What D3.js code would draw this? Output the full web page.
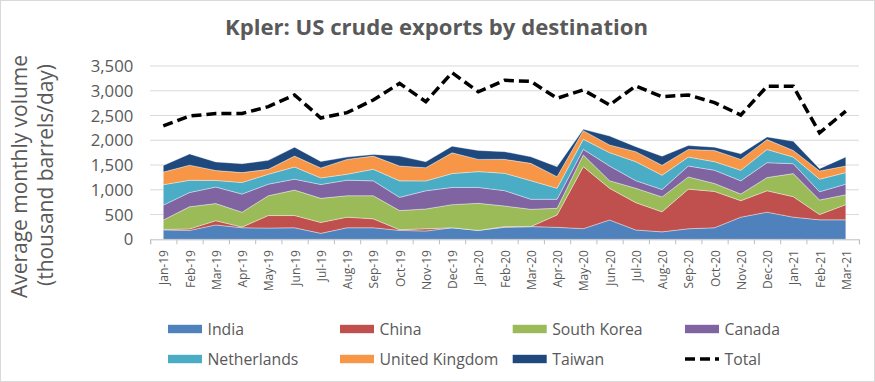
<!DOCTYPE html>
<html><head><meta charset="utf-8">
<script src="https://cdn.jsdelivr.net/npm/d3@7"></script>
<style>body{margin:0;background:#fff}svg{display:block}text{font-family:"Open Sans",sans-serif;fill:#595959}</style>
</head><body>
<svg id="c" width="875" height="382"></svg>
<script>
const months = ["Jan-19","Feb-19","Mar-19","Apr-19","May-19","Jun-19","Jul-19","Aug-19","Sep-19","Oct-19","Nov-19","Dec-19",
  "Jan-20","Feb-20","Mar-20","Apr-20","May-20","Jun-20","Jul-20","Aug-20","Sep-20","Oct-20","Nov-20","Dec-20",
  "Jan-21","Feb-21","Mar-21"];
const india       = [190,180,290,233,227,233,120,233,233,180,167,233,180,242,256,242,215,390,188,150,213,233,447,547,447,393,393];
const china       = [10,30,85,14,253,247,220,214,180,13,46,0,0,14,0,249,1252,640,552,404,800,734,333,433,413,107,307];
const southKorea  = [190,447,347,300,400,514,487,433,467,387,400,467,547,417,350,135,236,154,290,302,247,160,134,267,467,293,200];
const canada      = [300,287,333,366,234,220,280,314,300,267,366,347,320,310,202,182,114,296,154,149,220,267,266,300,200,167,214];
const netherlands = [413,247,134,234,200,246,133,120,234,333,200,280,320,350,376,222,202,270,384,289,180,173,214,267,133,254,233];
const unitedKingdom = [254,306,200,200,100,220,200,300,266,300,267,420,247,282,350,235,175,155,202,201,154,227,220,200,134,166,133];
const taiwan      = [133,227,173,180,180,180,133,46,34,200,120,133,180,155,134,202,27,181,101,183,80,66,113,53,186,47,180];
const total       = [2290,2490,2540,2540,2680,2915,2450,2557,2814,3150,2780,3365,2980,3210,3190,2848,3016,2713,3097,2880,2915,2760,2510,3090,3090,2150,2590];
const seriesNames = ["India","China","South Korea","Canada","Netherlands","United Kingdom","Taiwan"];
const seriesValues = [india,china,southKorea,canada,netherlands,unitedKingdom,taiwan];
const colors = ["#4F81BD","#C0504D","#9BBB59","#8064A2","#4BACC6","#F79646","#1F497D"];
const yTicks = [0,500,1000,1500,2000,2500,3000,3500];

const svg = d3.select("#c");
svg.append("rect").attr("x",0.5).attr("y",0.5).attr("width",874).attr("height",381)
  .attr("fill","#fff").attr("stroke","#d9d9d9");

const x = d3.scalePoint().domain(months).range([163.3, 845.8]);
const step = x.step();
const y = d3.scaleLinear().domain([0,3500]).range([239.3, 66]);
const left = x(months[0]) - step/2, right = x(months[months.length-1]) + step/2;

function fit(sel, target){
  const w = sel.node().getComputedTextLength();
  const fs = parseFloat(sel.attr("font-size"));
  return fs*target/w;
}

// gridlines
svg.append("g").selectAll("line").data(yTicks.slice(1)).join("line")
  .attr("x1",left).attr("x2",right).attr("y1",d=>y(d)).attr("y2",d=>y(d))
  .attr("stroke","#d9d9d9").attr("stroke-width",1);

// stacked data
const table = months.map((m,i)=>{const o={m}; seriesNames.forEach((s,k)=>o[s]=seriesValues[k][i]); return o;});
const stack = d3.stack().keys(seriesNames)(table);
const area = d3.area().x(d=>x(d.data.m)).y0(d=>y(d[0])).y1(d=>y(d[1]));
svg.append("g").selectAll("path").data(stack).join("path")
  .attr("d",area).attr("fill",(d,i)=>colors[i])
  .attr("stroke","rgba(255,255,255,0.45)").attr("stroke-width",0.8);

// x axis line and ticks
const xAxis = d3.axisBottom(d3.scaleLinear().domain([0,months.length]).range([left,right]))
  .tickValues(d3.range(0,months.length+1)).tickSize(5).tickFormat("");
const gx = svg.append("g").attr("transform",`translate(0,${y(0)})`).call(xAxis);
gx.select(".domain").attr("stroke","#bfbfbf");
gx.selectAll(".tick line").attr("stroke","#bfbfbf");

// total line
const line = d3.line().x((d,i)=>x(months[i])).y(d=>y(d));
svg.append("path").datum(total).attr("d",line).attr("fill","none")
  .attr("stroke","#000").attr("stroke-width",3.5).attr("stroke-dasharray","10,5");

// x labels
const xl = svg.append("g").selectAll("text").data(months).join("text")
  .attr("font-size",12).attr("text-anchor","end")
  .attr("transform",d=>`translate(${x(d)+5},250) rotate(-90)`).text(d=>d);
const xfs = fit(d3.select(xl.nodes()[0]), 35);
xl.attr("font-size",xfs);

// y labels
const yl = svg.append("g").selectAll("text").data(yTicks).join("text")
  .attr("font-size",16).attr("text-anchor","end").attr("x",133.3)
  .text(d=>d3.format(",")(d));
const yfs = fit(d3.select(yl.nodes()[yl.nodes().length-1]), 42.6);
yl.attr("font-size",yfs).attr("y",d=>y(d)+0.36*yfs);

// y title
const t1 = svg.append("text").attr("font-size",20).attr("text-anchor","middle")
  .attr("transform","translate(27,176.5) rotate(-90)").text("Average monthly volume");
const t1fs = fit(t1,243); t1.attr("font-size",t1fs);
const t2 = svg.append("text").attr("font-size",t1fs).attr("text-anchor","middle")
  .attr("transform","translate(52.5,175) rotate(-90)").text("(thousand barrels/day)");

// title
const title = svg.append("text").attr("font-size",24).attr("font-weight","bold")
  .attr("text-anchor","middle").attr("x",436.5).attr("y",35).text("Kpler: US crude exports by destination");
title.attr("font-size",fit(title,423));

// legend
const legendItems = seriesNames.map((n,i)=>({name:n,color:colors[i]})).concat([{name:"Total",dash:true}]);
const colX = [168,340,512.7,685], rowY = [329,359];
const lg = svg.append("g").selectAll("g").data(legendItems).join("g")
  .attr("transform",(d,i)=>`translate(${colX[i%4]},${rowY[Math.floor(i/4)]})`);
lg.filter(d=>!d.dash).append("rect").attr("x",0).attr("y",-4.2).attr("width",34).attr("height",8.4).attr("fill",d=>d.color);
lg.filter(d=>d.dash).append("line").attr("x1",0).attr("x2",34).attr("y1",0).attr("y2",0)
  .attr("stroke","#000").attr("stroke-width",3.5).attr("stroke-dasharray","10,5");
const lt = lg.append("text").attr("x",39.5).attr("y",6).attr("font-size",16).text(d=>d.name);
const lfs = fit(d3.select(lt.nodes()[4]),91);
lt.attr("font-size",lfs);
</script>
</body></html>
